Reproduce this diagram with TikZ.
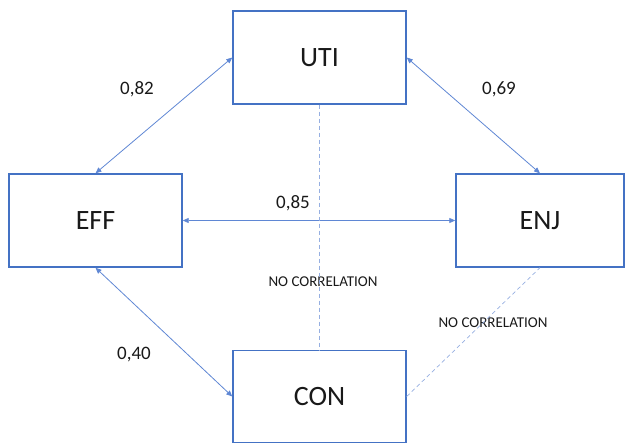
\documentclass[tikz,border=0pt]{standalone}
\usepackage{fontspec}
\setmainfont{Carlito}
\usetikzlibrary{arrows.meta}

\definecolor{boxblue}{RGB}{68,114,196}
\definecolor{arrowblue}{RGB}{95,135,212}
\definecolor{dashblue}{RGB}{150,175,225}
\definecolor{textgray}{RGB}{25,25,25}

\begin{document}
\begin{tikzpicture}[x=1pt, y=-1pt, <->, >={Triangle[length=6pt, width=5pt]},
  var/.style={rectangle, draw=boxblue, line width=1.4pt, minimum width=173pt, minimum height=93pt,
    text=textgray, font=\fontsize{28}{30}\selectfont},
  corr/.style={draw=arrowblue, line width=0.8pt},
  nocorr/.style={-, draw=dashblue, line width=0.7pt, dash pattern=on 4pt off 3pt},
  coef/.style={text=textgray, font=\fontsize{19}{21}\selectfont},
  note/.style={text=textgray, font=\fontsize{15}{17}\selectfont}]

  \useasboundingbox (0,0) rectangle (625,444);

  \node[var] (UTI) at (319.5,57.5) {UTI};
  \node[var] (EFF) at (95.5,220.5) {EFF};
  \node[var, minimum width=168pt] (ENJ) at (540,220.5) {ENJ};
  \node[var, minimum height=92pt] (CON) at (319.5,396.5) {CON};

  \node[coef] (cUE) at (137,89) {0,82};
  \node[coef] (cUJ) at (499,89) {0,69};
  \node[coef] (cEJ) at (293,203) {0,85};
  \node[coef] (cEC) at (134,355) {0,40};
  \node[note] (nUC) at (323,282) {NO CORRELATION};
  \node[note] (nJC) at (493,323) {NO CORRELATION};

  \path (EFF.north) edge [corr]   (UTI.west)
        (UTI.east)  edge [corr]   (ENJ.north)
        (EFF.east)  edge [corr]   (ENJ.west)
        (EFF.south) edge [corr]   (CON.west)
        (UTI.south) edge [nocorr] (CON.north)
        (CON.east)  edge [nocorr] (ENJ.south);

\end{tikzpicture}
\end{document}
